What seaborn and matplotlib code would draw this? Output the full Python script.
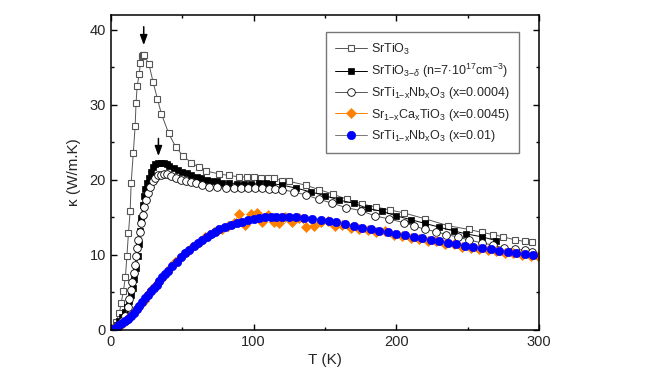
import numpy as np
import pandas as pd
import matplotlib
matplotlib.use("Agg")
import matplotlib.pyplot as plt
from matplotlib.ticker import MultipleLocator
import seaborn as sns

# --- data ---
T_sto = [2, 3.7, 6, 7.2, 8.8, 10.2, 11.2, 12.3, 13.5, 14.2, 15.7, 17, 17.6, 18.4, 19.8, 20.7, 21.5,
         22.6, 23.5, 26.7, 29.5, 32.6, 35.4, 40.5, 45.4, 50.5, 56.3, 61.4, 66.3, 75.6, 82.6, 90, 95,
         100, 105, 110, 114, 120, 125, 136.5, 146, 155.6, 165.6, 175.6, 185.4, 195.2, 205.2, 220.3,
         236, 250.5, 260, 268, 275, 283, 290, 295]
k_sto = [0.3, 1.1, 2.3, 3.6, 5.2, 7.1, 9.8, 12.9, 15.8, 19.6, 23.6, 27.2, 30.2, 32.5, 34.1, 35.6, 36.5,
         36.7, 36.6, 35.4, 33.1, 30.8, 28.8, 26.2, 24.4, 23.2, 22.3, 21.7, 21.2, 20.8, 20.6, 20.4, 20.4,
         20.4, 20.3, 20.2, 20.2, 19.9, 19.8, 19.3, 18.7, 18.1, 17.4, 16.8, 16.4, 16.0, 15.6, 14.8,
         13.9, 13.4, 13.0, 12.7, 12.4, 12.0, 11.8, 11.7]

T_red = [2, 4, 6, 8, 10, 11.5, 13, 14.2, 15.3, 16.5, 17.6, 18.8, 19.6, 20.5, 21.4, 22.3, 23.2, 24.2,
         25.3, 26.5, 28, 29.5, 31, 33, 35, 37, 39, 41, 44, 47, 50, 53, 56, 60, 63, 67, 70, 74, 78, 83,
         88, 93, 98, 104, 109, 113, 120, 130, 140, 150, 160, 170, 180, 190, 200, 210, 220, 230, 240,
         249, 260, 270]
k_red = [0.3, 0.7, 1.2, 1.7, 2.4, 3.1, 3.9, 4.6, 5.6, 6.8, 8.2, 9.8, 11.4, 13.2, 14.9, 16.6, 17.8, 18.8,
         19.6, 20.3, 21.0, 21.7, 22.1, 22.3, 22.3, 22.2, 22.1, 21.9, 21.6, 21.3, 21.0, 20.9, 20.6, 20.4,
         20.2, 20.0, 19.9, 19.8, 19.6, 19.6, 19.5, 19.5, 19.5, 19.6, 19.6, 19.5, 19.3, 18.9, 18.4, 17.9,
         17.3, 16.9, 16.2, 15.8, 15.2, 14.7, 14.2, 13.7, 13.2, 12.8, 12.4, 11.9]

T_nb1 = [2, 4, 6, 8, 10, 11.9, 13, 14.2, 15.1, 16, 16.9, 17.7, 18.5, 19.3, 20.2, 21.2, 22.3, 23.5, 24.6,
         25.8, 27.5, 29.3, 31, 33, 35, 37, 39, 42, 45.8, 49, 52.8, 56, 59.8, 64, 69, 74, 80.7, 86, 91,
         96, 101, 106, 111, 115, 120, 128, 136.6, 146, 155, 165, 175, 185, 194.7, 205, 212, 220, 228,
         235, 243, 250.5, 260, 268, 275.6, 283, 290, 295]
k_nb1 = [0.1, 0.3, 0.7, 1.2, 1.9, 3.1, 4.1, 5.3, 6.4, 7.6, 8.7, 9.8, 10.9, 12.0, 13.1, 14.2, 15.3, 16.4,
         17.3, 18.2, 19.1, 19.8, 20.3, 20.6, 20.7, 20.8, 20.8, 20.5, 20.2, 20.0, 19.8, 19.7, 19.6, 19.3,
         19.1, 19.0, 18.9, 18.9, 18.9, 18.9, 18.9, 18.9, 18.8, 18.8, 18.7, 18.4, 18.0, 17.4, 16.9, 16.3,
         15.9, 15.2, 14.8, 14.3, 13.9, 13.4, 13.1, 12.7, 12.4, 12.0, 11.6, 11.3, 10.9, 10.8, 10.6, 10.4]

T_ca = [1, 3, 5, 7, 9, 11, 13, 15, 17, 19, 21, 23, 25, 27, 29, 31, 33, 35, 37, 39, 42, 45, 48, 51, 54,
        57, 60, 63, 66, 69, 72, 75, 78, 82, 86, 90, 94, 98, 102, 106, 110, 114, 118, 122, 127, 132,
        137, 142, 147, 152, 157, 162, 168, 174, 180, 186, 192, 198, 204, 210, 216, 222, 228, 234, 240,
        246, 252, 258, 264, 270, 276, 282, 288, 294, 299]
k_ca = [0.1, 0.2, 0.45, 0.7, 1.0, 1.3, 1.7, 2.1, 2.5, 3.0, 3.5, 3.9, 4.5, 4.9, 5.4, 5.8, 6.3, 6.8, 7.3,
        7.7, 8.4, 9.0, 9.5, 10.1, 10.5, 11.1, 11.5, 11.9, 12.4, 12.6, 13.1, 13.3, 13.5, 13.9, 14.3, 15.4,
        14.0, 15.5, 15.6, 14.4, 15.3, 14.4, 14.2, 15.0, 14.4, 14.9, 13.7, 13.9, 14.4, 14.5, 13.9, 14.0,
        13.6, 13.4, 13.3, 13.1, 13.2, 12.7, 12.5, 12.3, 12.1, 11.9, 11.9, 11.5, 11.4, 11.1, 10.9, 10.8,
        10.6, 10.5, 10.3, 10.2, 10.0, 9.9, 9.8]

T_nb2 = [0.5, 2, 4, 6, 8, 10, 12, 14, 16, 18, 20, 22, 24, 26, 28, 30, 32, 34, 36, 38, 40, 43, 46, 49,
         52, 55, 58, 61, 64, 67, 70, 73, 76, 80, 84, 88, 92, 96, 100, 104, 108, 112, 116, 120, 125, 130,
         135, 141, 147, 153, 158, 164, 170, 176, 182, 188, 194, 200, 206, 212, 218, 224, 230, 236, 242,
         248, 254, 260, 266, 272, 278, 284, 290, 296]
k_nb2 = [0.05, 0.15, 0.35, 0.6, 0.85, 1.15, 1.5, 1.9, 2.3, 2.75, 3.2, 3.7, 4.2, 4.7, 5.15, 5.6, 6.05, 6.5,
         7.0, 7.45, 7.9, 8.5, 9.1, 9.7, 10.2, 10.7, 11.2, 11.6, 12.0, 12.4, 12.8, 13.1, 13.4, 13.7, 13.95,
         14.2, 14.4, 14.6, 14.75, 14.9, 15.0, 15.05, 15.1, 15.1, 15.1, 15.0, 14.95, 14.85, 14.7, 14.55,
         14.35, 14.15, 13.9, 13.65, 13.45, 13.25, 13.05, 12.85, 12.6, 12.35, 12.2, 12.05, 11.85, 11.65,
         11.45, 11.25, 11.05, 10.9, 10.75, 10.55, 10.4, 10.25, 10.1, 10.0]

labels = [r'SrTiO$_3$',
          r'SrTiO$_{3\mathrm{-}\delta}$ (n=7$\cdot$10$^{17}$cm$^{-3}$)',
          r'SrTi$_{1\mathrm{-x}}$Nb$_\mathrm{x}$O$_3$ (x=0.0004)',
          r'Sr$_{1\mathrm{-x}}$Ca$_\mathrm{x}$TiO$_3$ (x=0.0045)',
          r'SrTi$_{1\mathrm{-x}}$Nb$_\mathrm{x}$O$_3$ (x=0.01)']

# arrows marking the peaks (x, y_start, y_end)
arrow1 = (23, 40.8, 37.6)
arrow2 = (33.3, 25.9, 22.8)

sns.set_style("ticks", {"xtick.direction": "in", "ytick.direction": "in"})
plt.rcParams['font.family'] = ['Liberation Sans', 'DejaVu Sans']
plt.rcParams['mathtext.fontset'] = 'custom'
plt.rcParams['mathtext.rm'] = 'Liberation Sans'
plt.rcParams['mathtext.it'] = 'Liberation Sans:italic'
plt.rcParams['mathtext.bf'] = 'Liberation Sans:bold'

fig = plt.figure(figsize=(6.64, 3.74), dpi=100)
ax = fig.add_axes([0.167, 0.118, 0.645, 0.842])

common = dict(sort=False, estimator=None, linewidth=0.7, ax=ax)
sns.lineplot(x=T_sto, y=k_sto, color='#555555', marker='s', markersize=5, markerfacecolor='white',
             markeredgecolor='#555555', markeredgewidth=0.8, label=labels[0], **common)
sns.lineplot(x=T_red, y=k_red, color='black', marker='s', markersize=5, markerfacecolor='black',
             markeredgecolor='black', markeredgewidth=0.5, label=labels[1], **common)
sns.lineplot(x=T_nb1, y=k_nb1, color='#555555', marker='o', markersize=5.5, markerfacecolor='white',
             markeredgecolor='black', markeredgewidth=0.6, label=labels[2], **common)
sns.lineplot(x=T_ca, y=k_ca, color='#ff8000', marker='D', markersize=5, markerfacecolor='#ff8000',
             markeredgecolor='#ff8000', markeredgewidth=0.5, label=labels[3], **common)
sns.lineplot(x=T_nb2, y=k_nb2, color='#777777', marker='o', markersize=6, markerfacecolor='#0000ff',
             markeredgecolor='#0000ff', markeredgewidth=0.5, label=labels[4], **common)

for xa, y0, y1 in (arrow1, arrow2):
    ax.annotate('', xy=(xa, y1), xytext=(xa, y0),
                arrowprops=dict(arrowstyle='-|>,head_width=0.22,head_length=0.6', color='black', lw=1.1))

ax.set_xlim(0, 300)
ax.set_ylim(0, 42)
ax.xaxis.set_major_locator(MultipleLocator(100))
ax.xaxis.set_minor_locator(MultipleLocator(50))
ax.yaxis.set_major_locator(MultipleLocator(10))
ax.yaxis.set_minor_locator(MultipleLocator(5))
ax.tick_params(which='both', direction='in', top=True, right=True, labelsize=10.5, width=1, color='black')
ax.tick_params(which='major', length=4)
ax.tick_params(which='minor', length=2.5)
for s in ax.spines.values():
    s.set_linewidth(1.1)
    s.set_color('black')

ax.set_xlabel('T (K)', fontsize=11, labelpad=2)
ax.xaxis.set_label_coords(0.5, -0.075)
ax.set_ylabel('κ (W/m.K)', fontsize=11, labelpad=6)

leg = ax.legend(loc='upper left', bbox_to_anchor=(0.502, 0.945), borderaxespad=0, fontsize=9,
                frameon=True, fancybox=False, handlelength=2.5, labelspacing=0.42, borderpad=0.75,
                handletextpad=0.35)
leg.get_frame().set_edgecolor('#555555')
leg.get_frame().set_linewidth(1.0)

fig.savefig('out.png', dpi=100)
